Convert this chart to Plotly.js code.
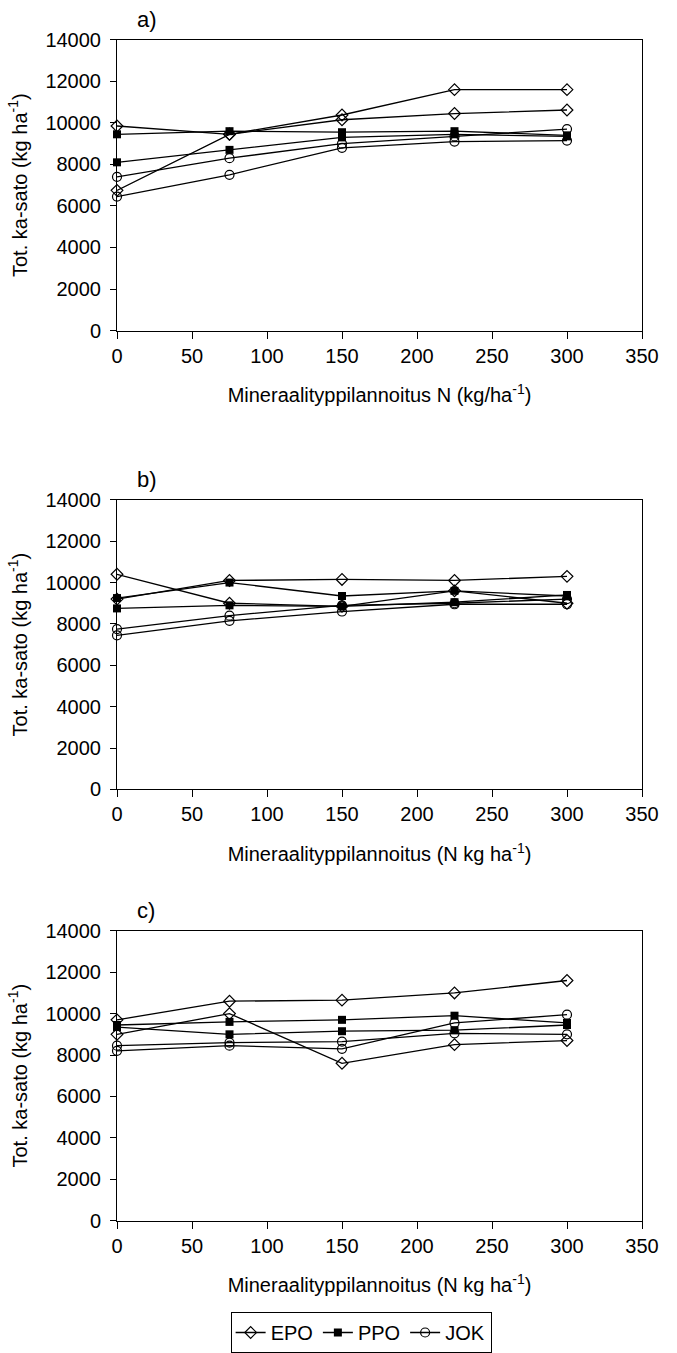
<!DOCTYPE html>
<html>
<head>
<meta charset="utf-8">
<script src="https://cdn.plot.ly/plotly-3.0.1.min.js"></script>
<style>
html,body{margin:0;padding:0;background:#fff;}
#chart{width:677px;height:1353px;}
</style>
</head>
<body>
<div id="chart"></div>
<script>
// Nitrogen levels (kg N/ha)
const nLevels = [0, 75, 150, 225, 300];

// Panel a)
const epoA1 = [9850, 9450, 10150, 10450, 10620];
const epoA2 = [6750, 9450, 10380, 11600, 11600];
const ppoA1 = [9450, 9600, 9550, 9600, 9400];
const ppoA2 = [8100, 8700, 9300, 9450, 9350];
const jokA1 = [7400, 8300, 9000, 9350, 9700];
const jokA2 = [6450, 7500, 8800, 9100, 9150];

// Panel b)
const epoB1 = [10400, 9000, 8850, 9600, 9000];
const epoB2 = [9200, 10100, 10150, 10100, 10300];
const ppoB1 = [9250, 10000, 9350, 9600, 9350];
const ppoB2 = [8750, 8900, 8850, 9050, 9400];
const jokB1 = [7750, 8400, 8900, 9000, 9200];
const jokB2 = [7450, 8150, 8600, 8950, 8950];

// Panel c)
const epoC1 = [9700, 10600, 10650, 11000, 11600];
const epoC2 = [9000, 10000, 7600, 8500, 8700];
const ppoC1 = [9450, 9600, 9700, 9900, 9550];
const ppoC2 = [9350, 9000, 9150, 9200, 9450];
const jokC1 = [8450, 8600, 8650, 9050, 9000];
const jokC2 = [8200, 8450, 8300, 9550, 9950];

const seriesNames = ['EPO', 'PPO', 'JOK'];
const panelLabels = ['a)', 'b)', 'c)'];
const xTitles = ['Mineraalityppilannoitus N (kg/ha<sup>-1</sup>)',
                 'Mineraalityppilannoitus (N kg ha<sup>-1</sup>)',
                 'Mineraalityppilannoitus (N kg ha<sup>-1</sup>)'];
const yTitle = 'Tot. ka-sato (kg ha<sup>-1</sup>)';
const xTicks = [0, 50, 100, 150, 200, 250, 300, 350];
const xTickText = ['0', '50', '100', '150', '200', '250', '300', '350'];
const yTicks = [0, 2000, 4000, 6000, 8000, 10000, 12000, 14000];
const yTickText = ['0', '2000', '4000', '6000', '8000', '10000', '12000', '14000'];

const markerStyles = {
  EPO: {symbol: 'diamond-open', size: 9, color: '#000', line: {width: 1.2, color: '#000'}},
  PPO: {symbol: 'square', size: 8, color: '#000', line: {width: 0, color: '#000'}},
  JOK: {symbol: 'circle-open', size: 9, color: '#000', line: {width: 1.2, color: '#000'}}
};

const panels = [
  {EPO: [epoA1, epoA2], PPO: [ppoA1, ppoA2], JOK: [jokA1, jokA2]},
  {EPO: [epoB1, epoB2], PPO: [ppoB1, ppoB2], JOK: [jokB1, jokB2]},
  {EPO: [epoC1, epoC2], PPO: [ppoC1, ppoC2], JOK: [jokC1, jokC2]}
];

const traces = [];
panels.forEach((p, i) => {
  const xa = i === 0 ? 'x' : 'x' + (i + 1);
  const ya = i === 0 ? 'y' : 'y' + (i + 1);
  seriesNames.forEach(name => {
    p[name].forEach((vals, k) => {
      traces.push({
        x: nLevels, y: vals, type: 'scatter', mode: 'lines+markers',
        name: name, legendgroup: name,
        showlegend: (i === 2 && k === 0),
        xaxis: xa, yaxis: ya,
        line: {color: '#000', width: 1.3},
        marker: markerStyles[name],
        cliponaxis: false,
        hoverinfo: 'skip'
      });
    });
  });
});

const H = 1353;
// pixel top/bottom of each plot area
const boxes = [[40, 332], [502, 793], [935, 1226]];
const fontFam = 'Arial, "Liberation Sans", sans-serif';

const layout = {
  width: 677, height: H,
  margin: {l: 117, r: 35, t: 0, b: 0},
  paper_bgcolor: '#fff', plot_bgcolor: '#fff',
  font: {family: fontFam, size: 20, color: '#000'},
  showlegend: true,
  legend: {
    orientation: 'h', x: 0.465, xanchor: 'center', y: 1 - 1318 / H, yanchor: 'top',
    bordercolor: '#000', borderwidth: 1, bgcolor: '#fff',
    font: {family: fontFam, size: 20, color: '#000'},
    itemwidth: 30, tracegroupgap: 0
  },
  annotations: []
};

boxes.forEach((b, i) => {
  const sx = i === 0 ? '' : String(i + 1);
  layout['xaxis' + sx] = {
    domain: [0, 1], anchor: 'y' + sx, range: [0, 350],
    tickmode: 'array', tickvals: xTicks, ticktext: xTickText,
    ticks: 'outside', ticklen: 7, tickwidth: 1, tickcolor: '#000',
    showline: true, linecolor: '#000', linewidth: 1, mirror: true,
    showgrid: false, zeroline: false,
    tickfont: {family: fontFam, size: 20, color: '#000'},
    title: {text: xTitles[i], font: {family: fontFam, size: 20, color: '#000'}, standoff: 22}
  };
  layout['yaxis' + sx] = {
    domain: [1 - b[1] / H, 1 - b[0] / H], anchor: 'x' + sx, range: [0, 14000],
    tickmode: 'array', tickvals: yTicks, ticktext: yTickText,
    ticks: 'outside', ticklen: 6, tickwidth: 1, tickcolor: '#000',
    ticklabelstandoff: 5,
    showline: true, linecolor: '#000', linewidth: 1, mirror: true,
    showgrid: false, zeroline: false,
    tickfont: {family: fontFam, size: 20, color: '#000'},
    title: {text: yTitle, font: {family: fontFam, size: 20, color: '#000'}, standoff: 12}
  };
  layout.annotations.push({
    text: panelLabels[i], xref: 'paper', yref: 'paper',
    x: (135 - 117) / 525, xanchor: 'left',
    y: 1 - (b[0] - 20) / H, yanchor: 'middle',
    showarrow: false, font: {family: fontFam, size: 22, color: '#000'}
  });
});

Plotly.newPlot('chart', traces, layout, {displayModeBar: false, staticPlot: true});
</script>
</body>
</html>
